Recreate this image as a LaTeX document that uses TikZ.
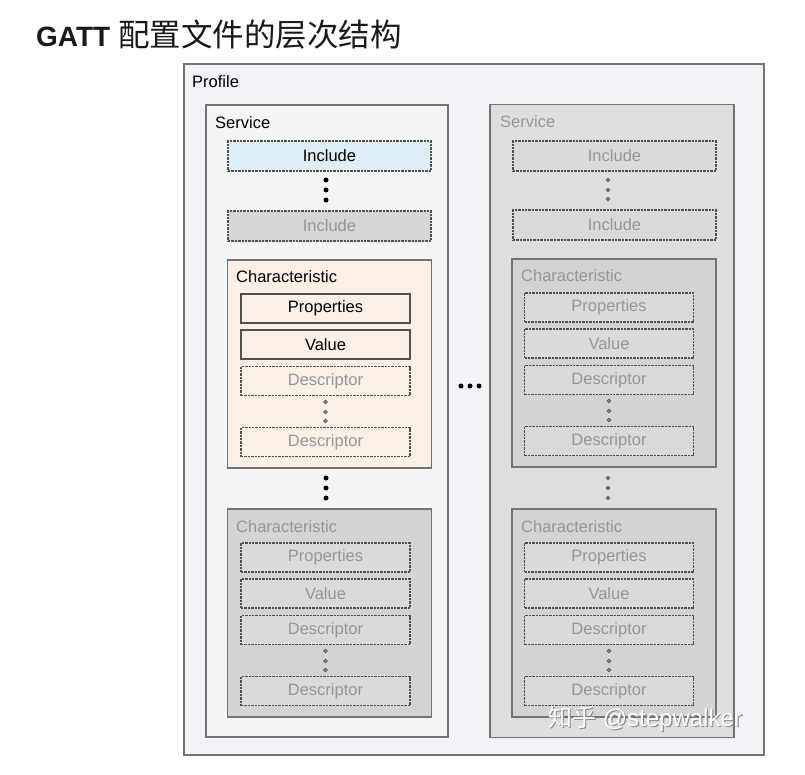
\documentclass[tikz,border=0pt]{standalone}
\usepackage{fontspec}
\setmainfont{Liberation Sans}
\newfontfamily\cjk{Noto Sans CJK SC}
\usetikzlibrary{positioning}

\definecolor{profbg}{RGB}{242,243,246}
\definecolor{servbg}{RGB}{244,245,247}
\definecolor{linegray}{RGB}{115,115,115}
\definecolor{linedark}{RGB}{80,80,80}
\definecolor{inclblue}{RGB}{222,238,246}
\definecolor{peach}{RGB}{252,240,230}
\definecolor{greyfill}{RGB}{214,214,216}
\definecolor{servgrey}{RGB}{222,222,224}
\definecolor{chargrey}{RGB}{211,211,213}
\definecolor{itemgrey}{RGB}{218,218,220}
\definecolor{textgray}{RGB}{150,150,150}
\definecolor{dotgray}{RGB}{95,95,95}

\begin{document}
\begin{tikzpicture}[x=1pt,y=-1pt,
  font=\fontsize{16.5}{19}\selectfont,
  frame/.style={draw=linegray,line width=1.1pt},
  solidbox/.style={draw=linedark,line width=1.2pt,minimum width=169pt,minimum height=29pt,inner sep=0pt},
  dashbox/.style={draw=linedark,line width=1.5pt,dash pattern=on 2.4pt off 1pt,inner sep=0pt},
  itembox/.style={dashbox,minimum width=169pt,minimum height=29pt},
  inclbox/.style={dashbox,minimum width=203pt,minimum height=30pt},
  charbox/.style={frame,minimum width=204pt,minimum height=208pt},
  boxtext/.style={anchor=base west,inner sep=0pt},
  faint/.style={text=textgray},
  smalldot/.style={draw=dotgray,fill=textgray,line width=0.8pt}]
\useasboundingbox (0,0) rectangle (805,775);

% title
\node (title) [boxtext,text=black!90] at (36,47) {\fontsize{28}{30}\selectfont\bfseries GATT {\cjk\mdseries\fontsize{31.5}{34}\selectfont 配置文件的层次结构}};

\node (profile) [frame,fill=profbg,minimum width=580pt,minimum height=691pt] at (474,409.5) {};
\node (profiletxt) [boxtext] at (192,88) {Profile};

%% left service
\node (servL) [frame,fill=servbg,minimum width=242pt,minimum height=632pt] at (327,421) {};
\node (servLtxt) [boxtext] at (215,129) {Service};
\node (inclL1) [inclbox,fill=inclblue] at (329.5,156) {Include};
\fill (326,180) circle (2.5) (326,190) circle (2.5) (326,200) circle (2.5);
\node (inclL2) [inclbox,fill=greyfill,faint] at (329.5,226) {Include};

\begin{scope}[shift={(329.5,260)}]
\node (charL1) [charbox,fill=peach] at (0,104) {};
\node (charL1txt) [boxtext] at (-93.5,23) {Characteristic};
\node (propsL1) [solidbox,fill=peach] at (-4,48.5) {Properties};
\node (valueL1) [solidbox,fill=peach] at (-4,84.5) {Value};
\node (descL1a) [itembox,fill=peach,faint] at (-4,121) {Descriptor};
\filldraw[smalldot] (-4,142) circle (1.8) (-4,152) circle (1.8) (-4,161) circle (1.8);
\node (descL1b) [itembox,fill=peach,faint] at (-4,182) {Descriptor};
\end{scope}

\fill (326,478) circle (2.5) (326,488) circle (2.5) (326,498) circle (2.5);

\begin{scope}[shift={(329.5,509)}]
\node (charL2) [charbox,fill=chargrey] at (0,104) {};
\node (charL2txt) [boxtext,faint] at (-93.5,23) {Characteristic};
\node (propsL2) [itembox,fill=itemgrey,faint] at (-4,48.5) {Properties};
\node (valueL2) [itembox,fill=itemgrey,faint] at (-4,84.5) {Value};
\node (descL2a) [itembox,fill=itemgrey,faint] at (-4,121) {Descriptor};
\filldraw[smalldot] (-4,142) circle (1.8) (-4,152) circle (1.8) (-4,161) circle (1.8);
\node (descL2b) [itembox,fill=itemgrey,faint] at (-4,182) {Descriptor};
\end{scope}

% more services
\fill (461,386) circle (2.5) (470,386) circle (2.5) (479,386) circle (2.5);

%% right service
\node (servR) [frame,fill=servgrey,minimum width=244pt,minimum height=633pt] at (612,421) {};
\node (servRtxt) [boxtext,faint] at (500,128) {Service};
\node (inclR1) [inclbox,fill=itemgrey,faint] at (614.5,156) {Include};
\filldraw[smalldot] (608,180) circle (1.8) (608,190) circle (1.8) (608,199) circle (1.8);
\node (inclR2) [inclbox,fill=itemgrey,faint] at (614.5,225) {Include};

\begin{scope}[shift={(614,259)}]
\node (charR1) [charbox,fill=chargrey] at (0,104) {};
\node (charR1txt) [boxtext,faint] at (-93,23) {Characteristic};
\node (propsR1) [itembox,fill=itemgrey,faint] at (-5,48.5) {Properties};
\node (valueR1) [itembox,fill=itemgrey,faint] at (-5,84.5) {Value};
\node (descR1a) [itembox,fill=itemgrey,faint] at (-5,121) {Descriptor};
\filldraw[smalldot] (-5,142) circle (1.8) (-5,152) circle (1.8) (-5,161) circle (1.8);
\node (descR1b) [itembox,fill=itemgrey,faint] at (-5,182) {Descriptor};
\end{scope}

\filldraw[smalldot] (608,478) circle (1.8) (608,488) circle (1.8) (608,498) circle (1.8);

\begin{scope}[shift={(614,509)}]
\node (charR2) [charbox,fill=chargrey] at (0,104) {};
\node (charR2txt) [boxtext,faint] at (-93,23) {Characteristic};
\node (propsR2) [itembox,fill=itemgrey,faint] at (-5,48.5) {Properties};
\node (valueR2) [itembox,fill=itemgrey,faint] at (-5,84.5) {Value};
\node (descR2a) [itembox,fill=itemgrey,faint] at (-5,121) {Descriptor};
\filldraw[smalldot] (-5,142) circle (1.8) (-5,152) circle (1.8) (-5,161) circle (1.8);
\node (descR2b) [itembox,fill=itemgrey,faint] at (-5,182) {Descriptor};
\end{scope}

% watermark
\node (markshadow) [text=black!45,font=\fontsize{24}{28}\selectfont] at (646.2,720.2) {{\cjk 知乎} @stepwalker};
\node (mark) [text=white,font=\fontsize{24}{28}\selectfont] at (645,719) {{\cjk 知乎} @stepwalker};
\end{tikzpicture}
\end{document}
